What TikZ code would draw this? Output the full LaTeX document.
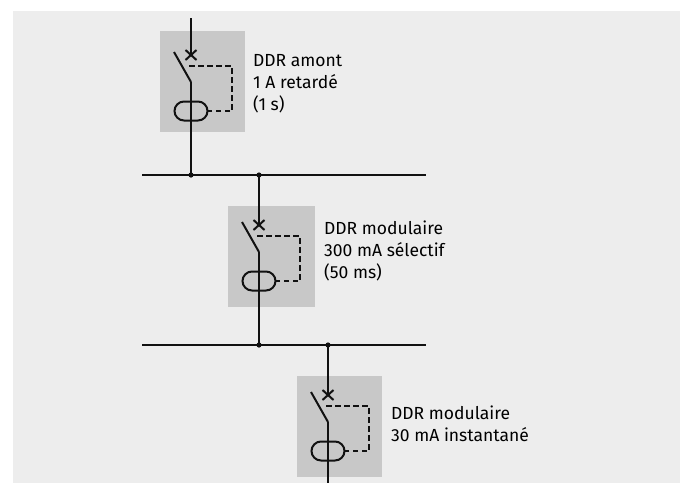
\documentclass[tikz,border=0pt]{standalone}
\usepackage{fontspec}
\setmainfont{Fira Sans}
\usepackage{tikz}
\usetikzlibrary{calc}

\definecolor{bggray}{HTML}{EDEDED}
\definecolor{boxgray}{HTML}{C8C8C8}
\definecolor{ink}{HTML}{111111}

\tikzset{
  wire/.style={ink, line width=2pt},
  trip/.style={ink, line width=1.8pt, dash pattern=on 5.5pt off 3.5pt},
  label/.style={anchor=base west, align=left, inner sep=0pt,
    font=\fontsize{17.5}{22}\selectfont},
  ddr/.pic={
    % switch with trip cross, origin at the cross
    \coordinate (-in) at (0,0);
    \coordinate (-out) at (0,27);
    \draw[wire] (-5.5,-5) -- (5.5,5) (-5.5,5) -- (5.5,-5);
    \draw[wire] (-17,-3) -- (-out);
    % residual current sensor
    \draw[wire, rounded corners=9.5pt] (-16.5,46.5) rectangle (16.5,65.5);
    \draw[trip] (-2,11) -- (41,11) -- (41,56) -- (16.5,56);
  }
}

\begin{document}
\begin{tikzpicture}[x=1pt, y=-1pt]
  \useasboundingbox (0,0) rectangle (680,483);
  \fill[bggray] (13,11) rectangle (680,483);

  % grey boxes
  \fill[boxgray] (160,31) rectangle (245,132);
  \fill[boxgray] (228,206) rectangle (315,307);
  \fill[boxgray] (297,376) rectangle (382,477);

  % bus bars and junctions
  \coordinate (feed) at (191,18);
  \coordinate (b1l) at (142,175);
  \coordinate (b1r) at (426,175);
  \coordinate (j1) at (191,175);
  \coordinate (j2) at (259,175);
  \coordinate (b2l) at (142,345);
  \coordinate (b2r) at (426,345);
  \coordinate (j3) at (259,345);
  \coordinate (j4) at (328,345);
  \coordinate (tail) at (328,483);

  \draw[wire] (b1l) -- (b1r);
  \draw[wire] (b2l) -- (b2r);

  \pic (d1) at (191,55) {ddr};
  \pic (d2) at (259,225) {ddr};
  \pic (d3) at (328,395) {ddr};

  \draw[wire] (feed) -- (d1-in);
  \draw[wire] (d1-out) -- (j1);
  \draw[wire] (j2) -- (d2-in);
  \draw[wire] (d2-out) -- (j3);
  \draw[wire] (j4) -- (d3-in);
  \draw[wire] (d3-out) -- (tail);

  \foreach \j in {j1,j2,j3,j4}
    \fill[ink] (\j) circle (2.6pt);

  % texts (base = last line)
  \node[label] (t1) at (253,110) {DDR amont\\1 A retardé\\(1 s)};
  \node[label] (t2) at (324,278) {DDR modulaire\\300 mA sélectif\\(50 ms)};
  \node[label] (t3) at (391,441) {DDR modulaire\\30 mA instantané};
\end{tikzpicture}
\end{document}
